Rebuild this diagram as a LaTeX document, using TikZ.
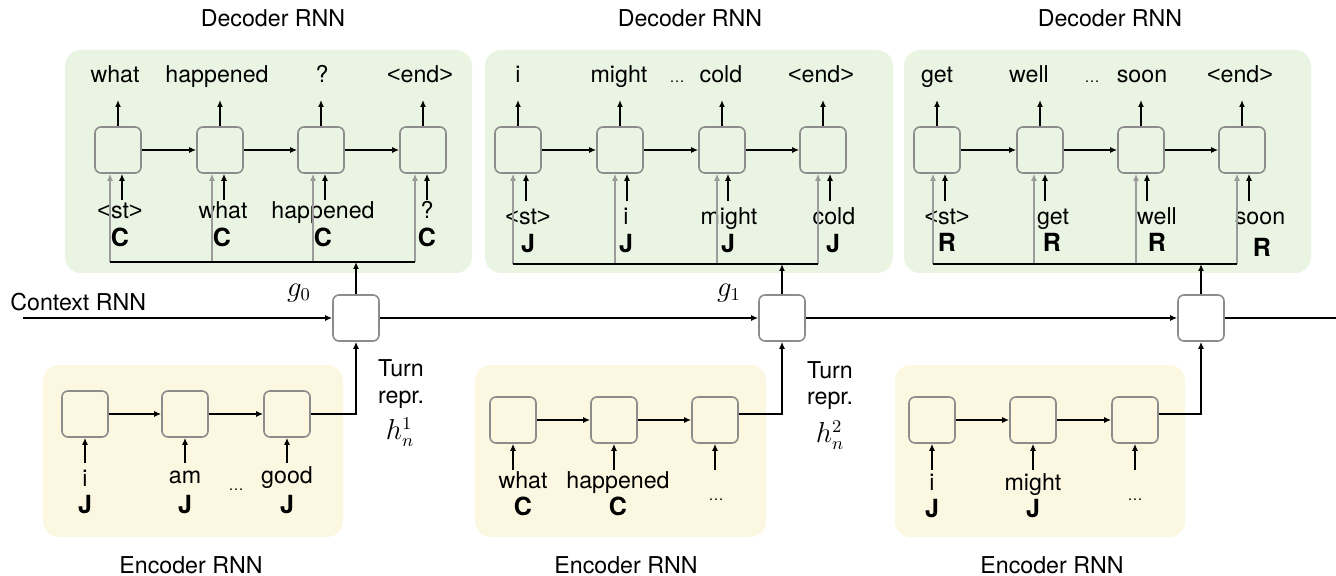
\documentclass[tikz,border=0pt]{standalone}
\usepackage{fontspec}
\setmainfont{TeX Gyre Heros}
\newfontfamily\symfont{Liberation Sans}
\newcommand{\mylt}{{\symfont<}}
\newcommand{\mygt}{{\symfont>}}
\usetikzlibrary{arrows.meta}
\definecolor{decfill}{RGB}{234,244,227}
\definecolor{encfill}{RGB}{252,247,224}
\definecolor{boxline}{RGB}{140,140,140}
\definecolor{grayarr}{RGB}{155,155,155}
\begin{document}
\begin{tikzpicture}[x=0.5pt,y=-0.5pt,
 cell/.style={draw=boxline, line width=0.8pt, rounded corners=3pt, minimum width=23pt, minimum height=23pt, inner sep=0pt},
 gcell/.style={cell, fill=white},
 arr/.style={-{Latex[length=3.5pt,width=3pt]}, line width=0.7pt, black},
 garr/.style={-{Latex[length=3.5pt,width=3pt]}, line width=0.7pt, grayarr},
 plain/.style={line width=0.7pt, black},
 lbl/.style={font=\fontsize{11.6}{13}\selectfont, inner sep=0pt},
 mth/.style={font=\fontsize{13.5}{15}\selectfont, inner sep=0pt},
 outw/.style={lbl, anchor=south, text depth=2.5pt, inner ysep=6pt},
 inw/.style={lbl, anchor=base},
 tok/.style={font=\fontsize{12.5}{13}\selectfont\bfseries, inner sep=0pt, anchor=base},
 dots/.style={font=\fontsize{7.5}{8}\selectfont, inner sep=0pt, anchor=base},
]
\useasboundingbox (0,0) rectangle (1336,576);
% panels
\fill[decfill, rounded corners=8pt] (65,50) rectangle (472,273);
\fill[decfill, rounded corners=8pt] (485,50) rectangle (893,273);
\fill[decfill, rounded corners=8pt] (904,50) rectangle (1311,273);
\fill[encfill, rounded corners=8pt] (43,365) rectangle (343,537);
\fill[encfill, rounded corners=8pt] (475,365) rectangle (766,537);
\fill[encfill, rounded corners=8pt] (895,365) rectangle (1185,537);
% titles
\node[inw] (t1) at (273,27) {Decoder RNN};
\node[inw] (t2) at (690,27) {Decoder RNN};
\node[inw] (t3) at (1110,27) {Decoder RNN};
\node[inw] (u1) at (191,573) {Encoder RNN};
\node[inw] (u2) at (626,573) {Encoder RNN};
\node[inw] (u3) at (1052,573) {Encoder RNN};
% decoder cells
\foreach \p/\a/\b/\c/\d in {1/118/220/321/423, 2/518/620/722/823, 3/937/1040/1141/1242}{
  \node[cell] (d\p1) at (\a,150) {};
  \node[cell] (d\p2) at (\b,150) {};
  \node[cell] (d\p3) at (\c,150) {};
  \node[cell] (d\p4) at (\d,150) {};
  \draw[arr] (d\p1) -- (d\p2);
  \draw[arr] (d\p2) -- (d\p3);
  \draw[arr] (d\p3) -- (d\p4);
}
% context cells
\node[gcell] (g0) at (356,318) {};
\node[gcell] (g1) at (782,318) {};
\node[gcell] (g2) at (1201,318) {};
% encoder cells
\node[cell] (e11) at (85,414) {};
\node[cell] (e12) at (185,414) {};
\node[cell] (e13) at (287,414) {};
\node[cell] (e21) at (513,420) {};
\node[cell] (e22) at (614,420) {};
\node[cell] (e23) at (715,420) {};
\node[cell] (e31) at (932,420) {};
\node[cell] (e32) at (1033,420) {};
\node[cell] (e33) at (1135,420) {};
\foreach \p in {1,2,3}{
  \draw[arr] (e\p1) -- (e\p2);
  \draw[arr] (e\p2) -- (e\p3);
}
% decoder output words
\node[outw] (w11) at (115,100) {what};
\node[outw] (w12) at (217,100) {happened};
\node[outw] (w13) at (322,100) {?};
\node[outw] (w14) at (420,100) {\mylt end\mygt};
\node[outw] (w21) at (518,100) {i};
\node[outw] (w22) at (619,100) {might};
\node[outw] (w23) at (721,100) {cold};
\node[outw] (w24) at (821,100) {\mylt end\mygt};
\node[outw] (w31) at (937,100) {get};
\node[outw] (w32) at (1029,100) {well};
\node[outw] (w33) at (1142,100) {soon};
\node[outw] (w34) at (1240,100) {\mylt end\mygt};
\node[dots] (dd2) at (677,83) {\dots};
\node[dots] (dd3) at (1092,83) {\dots};
\foreach \p in {1,2,3}{
  \foreach \j in {1,2,3,4}{
    \draw[arr] (d\p\j.north) -- (d\p\j.north |- w\p\j.south);
  }
}
% decoder input words
\node[inw] (i11) at (120,219) {\mylt st\mygt};
\node[inw] (i12) at (223,219) {what};
\node[inw] (i13) at (323,219) {happened};
\node[inw] (i14) at (427,219) {?};
\node[tok] (k11) at (120,247) {C};
\node[tok] (k12) at (222,247) {C};
\node[tok] (k13) at (323,247) {C};
\node[tok] (k14) at (427,247) {C};
\node[inw] (i21) at (528,225) {\mylt st\mygt};
\node[inw] (i22) at (626,225) {i};
\node[inw] (i23) at (729,225) {might};
\node[inw] (i24) at (834,225) {cold};
\node[tok] (k21) at (528,253) {J};
\node[tok] (k22) at (626,253) {J};
\node[tok] (k23) at (728,253) {J};
\node[tok] (k24) at (833,253) {J};
\node[inw] (i31) at (947,225) {\mylt st\mygt};
\node[inw] (i32) at (1053,225) {get};
\node[inw] (i33) at (1157,225) {well};
\node[inw] (i34) at (1260,225) {soon};
\node[tok] (k31) at (947,252) {R};
\node[tok] (k32) at (1052,252) {R};
\node[tok] (k33) at (1157,252) {R};
\node[tok] (k34) at (1262,257) {R};
% black input arrows (decoder)
\foreach \p/\a/\b/\c/\d/\y in {1/122/224/325/427/200, 2/526/627/728/830/201, 3/945/1045/1147/1249/201}{
  \coordinate (s\p1) at (\a,\y);
  \coordinate (s\p2) at (\b,\y);
  \coordinate (s\p3) at (\c,\y);
  \coordinate (s\p4) at (\d,\y);
}
% gray context arrows (decoder)
\foreach \p/\a/\b/\c/\d/\y in {1/110/212/313/415/262, 2/513/615/717/818/264, 3/933/1034/1136/1237/264}{
  \coordinate (b\p1) at (\a,\y);
  \coordinate (b\p2) at (\b,\y);
  \coordinate (b\p3) at (\c,\y);
  \coordinate (b\p4) at (\d,\y);
}
\foreach \p in {1,2,3}{
  \foreach \j in {1,2,3,4}{
    \draw[arr] (s\p\j) -- (s\p\j |- d\p\j.south);
    \draw[garr] (b\p\j) -- (b\p\j |- d\p\j.south);
  }
  \draw[plain] (b\p1) -- (b\p4);
}
\draw[arr] (g0.north) -- (g0.north |- b11);
\draw[arr] (g1.north) -- (g1.north |- b21);
\draw[arr] (g2.north) -- (g2.north |- b31);
% context line
\coordinate (cstart) at (23,318);
\coordinate (cend) at (1336,318);
\draw[arr] (cstart) -- (g0.west);
\draw[arr] (g0.east) -- (g1.west);
\draw[arr] (g1.east) -- (g2.west);
\draw[plain] (g2.east) -- (cend);
\node[lbl, anchor=base west] (ctx) at (10,311) {Context RNN};
\node[mth] (gl0) at (299,293) {$g_0$};
\node[mth] (gl1) at (729,293) {$g_1$};
% encoder to context
\draw[arr] (e13.east) -| (g0.south);
\draw[arr] ([yshift=3pt]e23.east) -| (g1.south);
\draw[arr] ([yshift=3pt]e33.east) -| (g2.south);
% turn representation labels
\node[inw] (tr1a) at (401,377) {Turn};
\node[inw] (tr1b) at (401,403) {repr.};
\node[mth] (tr1c) at (400,432) {$h_n^1$};
\node[inw] (tr2a) at (830,379) {Turn};
\node[inw] (tr2b) at (830,405) {repr.};
\node[mth] (tr2c) at (830,435) {$h_n^2$};
% encoder input words
\node[inw] (x11) at (85,486) {i};
\node[inw] (x12) at (185,483) {am};
\node[inw] (x13) at (287,483) {good};
\node[dots] (xd1) at (236,490) {\dots};
\node[tok] (y11) at (85,513) {J};
\node[tok] (y12) at (185,513) {J};
\node[tok] (y13) at (287,513) {J};
\node[inw] (x21) at (523,488) {what};
\node[inw] (x22) at (618,488) {happened};
\node[dots] (xd2) at (716,500) {\dots};
\node[tok] (y21) at (523,515) {C};
\node[tok] (y22) at (618,515) {C};
\node[inw] (x31) at (932,490) {i};
\node[inw] (x32) at (1033,490) {might};
\node[dots] (xd3) at (1135,500) {\dots};
\node[tok] (y31) at (932,517) {J};
\node[tok] (y32) at (1033,517) {J};
\foreach \p/\a/\b/\c/\y in {1/85/185/287/463, 2/513/614/715/470, 3/932/1033/1135/470}{
  \coordinate (z\p1) at (\a,\y);
  \coordinate (z\p2) at (\b,\y);
  \coordinate (z\p3) at (\c,\y);
}
\foreach \p in {1,2,3}{
  \foreach \j in {1,2,3}{
    \draw[arr] (z\p\j) -- (e\p\j.south);
  }
}
\end{tikzpicture}
\end{document}
